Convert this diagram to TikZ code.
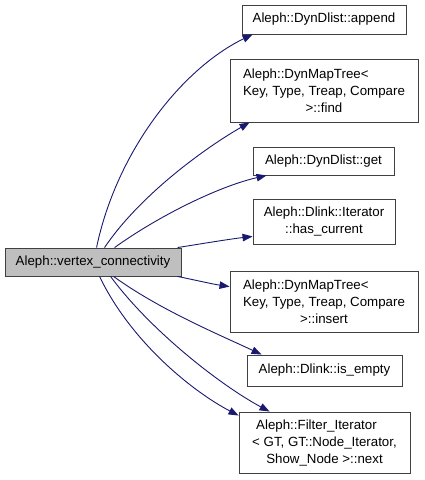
\documentclass[tikz,border=0pt]{standalone}
\usepackage{fontspec}
\setmainfont{Liberation Sans}
\usepackage{calc}
\usetikzlibrary{arrows.meta}
\definecolor{edgeblue}{HTML}{191970}
\definecolor{boxline}{HTML}{404040}
\definecolor{mainfill}{HTML}{BFBFBF}
\begin{document}
\begin{tikzpicture}[x=1pt,y=-1pt,
  box/.style={draw=boxline,line width=0.9pt,inner sep=0pt,align=center,
    font=\fontsize{13.3}{17}\selectfont},
  call/.style={draw=edgeblue,line width=0.9pt,-{Triangle[length=10pt,width=7.5pt]}}]
\useasboundingbox (0,0) rectangle (424,480);
\node[box,fill=mainfill,minimum width=176pt,minimum height=28pt] (main) at (93,262) {Aleph::vertex\_connectivity};
\node[box,minimum width=164pt,minimum height=29pt] (append) at (324,19.5) {Aleph::DynDlist::append};
\node[box,minimum width=188pt,minimum height=63pt] (find) at (324,90.5)
  {\makebox[\widthof{Key, Type, Treap, Compare}][l]{Aleph::DynMapTree<}\\Key, Type, Treap, Compare\\>::find};
\node[box,minimum width=141pt,minimum height=28pt] (get) at (323.5,161) {Aleph::DynDlist::get};
\node[box,minimum width=142pt,minimum height=45pt] (has) at (324,221.5) {Aleph::Dlink::Iterator\\::has\_current};
\node[box,minimum width=188pt,minimum height=61pt] (insert) at (324,301.5)
  {\makebox[\widthof{Key, Type, Treap, Compare}][l]{Aleph::DynMapTree<}\\Key, Type, Treap, Compare\\>::insert};
\node[box,minimum width=155pt,minimum height=31pt] (isempty) at (324.5,370.5) {Aleph::Dlink::is\_empty};
\node[box,minimum width=171pt,minimum height=61pt] (filter) at (324.5,442.5)
  {\makebox[\widthof{< GT, GT::Node\_Iterator,}][l]{\hspace{4pt}Aleph::Filter\_Iterator}\\< GT, GT::Node\_Iterator,\\Show\_Node >::next};
\draw[call] ([xshift=92pt]main.north west) .. controls (117,150) and (183,68) .. ([xshift=11pt]append.south west);
\draw[call] ([xshift=100pt]main.north west) .. controls (140,195) and (205,148) .. ([xshift=20pt]find.south west);
\draw[call] ([xshift=110pt]main.north west) .. controls (160,215) and (220,186) .. ([xshift=14pt]get.south west);
\draw[call] ([xshift=173pt]main.north west) .. controls (200,244) and (230,239) .. ([yshift=8pt]has.south west);
\draw[call] ([xshift=173pt]main.south west) .. controls (195,280) and (212,284) .. ([yshift=-16pt]insert.north west);
\draw[call] ([xshift=109pt]main.south west) .. controls (160,310) and (220,335) .. ([xshift=15pt]isempty.north west);
\draw[call] ([xshift=106pt]main.south west) .. controls (150,330) and (220,385) .. ([xshift=31pt]filter.north west);
\draw[call] ([xshift=95pt]main.south west) .. controls (130,340) and (190,390) .. ([yshift=-4pt]filter.north west);
\end{tikzpicture}
\end{document}
